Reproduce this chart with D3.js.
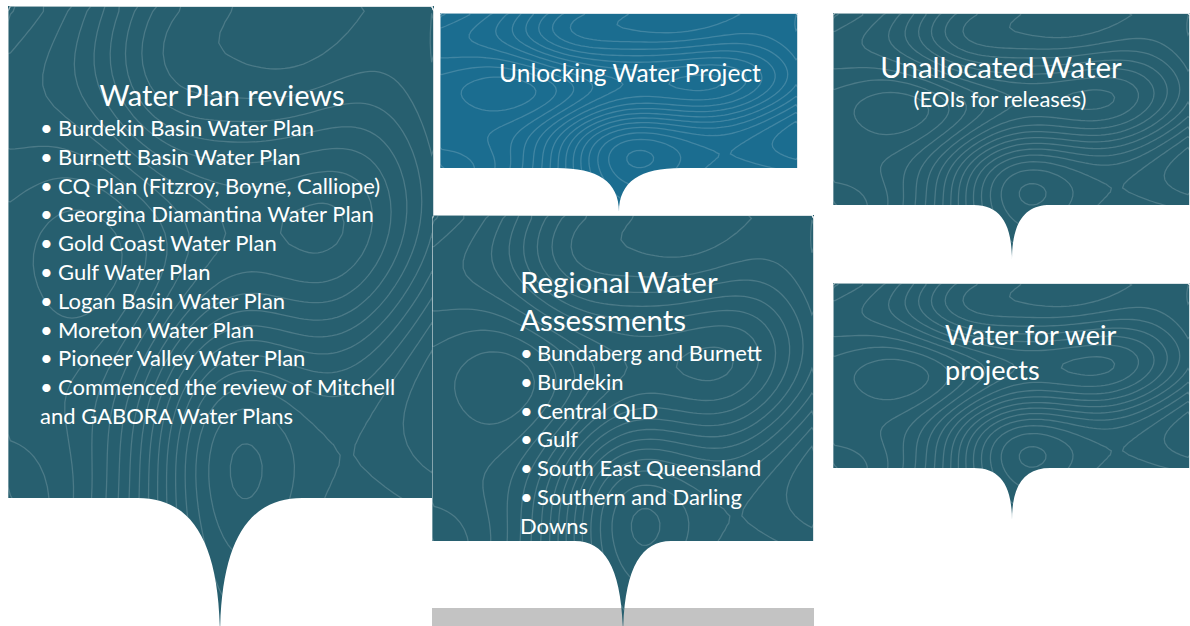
<!DOCTYPE html>
<html>
<head>
<meta charset="utf-8">
<script src="https://cdn.jsdelivr.net/npm/d3@7"></script>
<style>
  html, body { margin: 0; padding: 0; background: #ffffff; }
  svg { display: block; }
  text { font-family: Lato, "Open Sans", sans-serif; fill: #ffffff; }
</style>
</head>
<body>
<div id="chart"></div>
<script>
// Text content
const waterPlanTitle = "Water Plan reviews";
const waterPlanItems = [
  "Burdekin Basin Water Plan",
  "Burnett Basin Water Plan",
  "CQ Plan (Fitzroy, Boyne, Calliope)",
  "Georgina Diamantina Water Plan",
  "Gold Coast Water Plan",
  "Gulf Water Plan",
  "Logan Basin Water Plan",
  "Moreton Water Plan",
  "Pioneer Valley Water Plan",
  "Commenced the review of Mitchell"
];
const waterPlanWrap = "and GABORA Water Plans";
const unlockingTitle = "Unlocking Water Project";
const regionalTitle = ["Regional Water", "Assessments"];
const regionalItems = [
  "Bundaberg and Burnett",
  "Burdekin",
  "Central QLD",
  "Gulf",
  "South East Queensland",
  "Southern and Darling"
];
const regionalWrap = "Downs";
const unallocTitle = "Unallocated Water";
const unallocSub = "(EOIs for releases)";
const weirTitle = ["Water for weir", "projects"];

// decorative contour texture: bumps [x, y, height, spread] in unit box
const bumpX = [0.50, 0.22, 0.80, 0.35, 0.68];
const bumpY = [0.72, 0.30, 0.35, 0.10, 0.05];
const bumpH = [5.0, -3.0, -2.5, 2.0, 1.5];
const bumpS = [0.15, 0.18, 0.16, 0.12, 0.14];

const W = 1190, H = 626;
const teal = "#275f6f", blue = "#1b6d90";

const panels = [
  { id: "p1", x0: 8, y0: 6, x1: 434, y1: 498, tip: 220, tipY: 640, half: 82, fill: teal },
  { id: "p2", x0: 440, y0: 13, x1: 798, y1: 168, tip: 619, tipY: 212, half: 62, fill: blue },
  { id: "p3", x0: 432, y0: 215, x1: 814, y1: 541, tip: 623, tipY: 640, half: 48, fill: teal },
  { id: "p4", x0: 833, y0: 13, x1: 1190, y1: 205, tip: 1012, tipY: 260, half: 38, fill: teal },
  { id: "p5", x0: 833, y0: 283, x1: 1190, y1: 468, tip: 1012, tipY: 520, half: 38, fill: teal }
];

function panelPath(p) {
  const d = p.tipY - p.y1;
  const path = d3.path();
  path.moveTo(p.x0, p.y0);
  path.lineTo(p.x1, p.y0);
  path.lineTo(p.x1, p.y1);
  path.lineTo(p.tip + p.half, p.y1);
  path.bezierCurveTo(p.tip + p.half * 0.35, p.y1, p.tip, p.y1 + d * 0.3, p.tip, p.tipY);
  path.bezierCurveTo(p.tip, p.y1 + d * 0.3, p.tip - p.half * 0.35, p.y1, p.tip - p.half, p.y1);
  path.lineTo(p.x0, p.y1);
  path.closePath();
  return path.toString();
}

const svg = d3.select("#chart").append("svg")
  .attr("width", W).attr("height", H)
  .attr("viewBox", `0 0 ${W} ${H}`);

const defs = svg.append("defs");

// contour grid for texture
const gn = 90, gm = 60;
const field = new Array(gn * gm);
for (let j = 0; j < gm; j++) {
  for (let i = 0; i < gn; i++) {
    const u = i / (gn - 1), v = j / (gm - 1);
    let val = 7 * u + 1.4 * Math.sin(v * 6 + u * 4) + 0.6 * Math.sin(v * 13);
    for (let k = 0; k < bumpX.length; k++) {
      const dx = u - bumpX[k], dy = (v - bumpY[k]) * 0.8;
      val += bumpH[k] * Math.exp(-(dx * dx + dy * dy) / (2 * bumpS[k] * bumpS[k]));
    }
    field[j * gn + i] = val;
  }
}
const contours = d3.contours().size([gn, gm]).thresholds(d3.range(-4, 12, 0.7))(field);
const contourPath = d3.geoPath();

// grey strip under the middle column
svg.append("rect")
  .attr("x", 432).attr("y", 608)
  .attr("width", 382).attr("height", 20)
  .attr("fill", "#c3c3c3");

panels.forEach((p) => {
  const d = panelPath(p);
  defs.append("clipPath").attr("id", "clip-" + p.id)
    .append("path").attr("d", d);

  const g = svg.append("g").attr("class", "panel");
  g.append("path").attr("d", d).attr("fill", p.fill);

  const w = p.x1 - p.x0, h = p.tipY - p.y0;
  g.append("g")
    .attr("clip-path", `url(#clip-${p.id})`)
    .append("g")
    .attr("transform", `translate(${p.x0},${p.y0}) scale(${w / gn},${h / gm})`)
    .selectAll("path")
    .data(contours)
    .join("path")
    .attr("d", contourPath)
    .attr("fill", "none")
    .attr("stroke", "#ffffff")
    .attr("stroke-opacity", 0.17)
    .attr("stroke-width", 1.3)
    .attr("vector-effect", "non-scaling-stroke");
});

// Panel 1 text
const t1 = svg.append("g");
t1.append("text").attr("x", 222).attr("y", 106)
  .attr("text-anchor", "middle").attr("font-size", 29)
  .text(waterPlanTitle);
waterPlanItems.forEach((s, i) => {
  const y = 136 + i * 28.8;
  t1.append("text").attr("x", 40).attr("y", y).attr("font-size", 22).text("•");
  t1.append("text").attr("x", 58).attr("y", y).attr("font-size", 22).text(s);
});
t1.append("text").attr("x", 40).attr("y", 136 + waterPlanItems.length * 28.8)
  .attr("font-size", 22).text(waterPlanWrap);

// Panel 2 text
svg.append("text").attr("x", 630).attr("y", 82)
  .attr("text-anchor", "middle").attr("font-size", 24.5)
  .text(unlockingTitle);

// Panel 3 text
const t3 = svg.append("g");
regionalTitle.forEach((s, i) => {
  t3.append("text").attr("x", 520).attr("y", 293 + i * 38)
    .attr("font-size", 29.5).text(s);
});
regionalItems.forEach((s, i) => {
  const y = 361 + i * 28.8;
  t3.append("text").attr("x", 520).attr("y", y).attr("font-size", 22).text("•");
  t3.append("text").attr("x", 537).attr("y", y).attr("font-size", 22).text(s);
});
t3.append("text").attr("x", 520).attr("y", 361 + regionalItems.length * 28.8)
  .attr("font-size", 22).text(regionalWrap);

// Panel 4 text
svg.append("text").attr("x", 1001).attr("y", 78)
  .attr("text-anchor", "middle").attr("font-size", 29.5).text(unallocTitle);
svg.append("text").attr("x", 1000).attr("y", 107)
  .attr("text-anchor", "middle").attr("font-size", 22).text(unallocSub);

// Panel 5 text
weirTitle.forEach((s, i) => {
  svg.append("text").attr("x", 945).attr("y", 345 + i * 35)
    .attr("font-size", 27).text(s);
});
</script>
</body>
</html>
